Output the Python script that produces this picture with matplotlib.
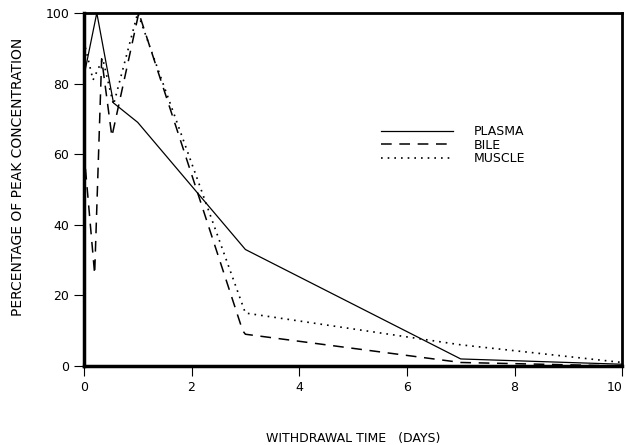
import matplotlib
matplotlib.use("Agg")
import matplotlib.pyplot as plt

# withdrawal time (days) and percentage of peak concentration
plasma_t = [0.0, 0.24, 0.55, 1.0, 3.0, 7.0, 10.0]
plasma_y = [82, 100, 74.5, 69, 33, 2, 0.5]

bile_t = [0.0, 0.2, 0.33, 0.52, 1.02, 2.95, 3.0, 7.0, 10.0]
bile_y = [61, 26, 87, 65, 100, 10, 9, 1, 0]

muscle_t = [0.0, 0.17, 0.35, 0.55, 1.0, 3.0, 7.0, 10.0]
muscle_y = [92, 81, 87, 74, 100, 15, 6, 1]

xticks = [0, 2, 4, 6, 8, 10]
yticks = [0, 20, 40, 60, 80, 100]

fig = plt.figure(figsize=(6.26, 4.45), dpi=100)
ax = fig.add_axes([0.134, 0.1775, 0.860, 0.7935])

ax.plot(plasma_t, plasma_y, color="black", linewidth=0.9, label="PLASMA")
ax.plot(bile_t, bile_y, color="black", linewidth=1.1, linestyle=(0, (7, 5)), label="BILE")
ax.plot(muscle_t, muscle_y, color="black", linewidth=1.2, linestyle=(0, (1, 3)), label="MUSCLE")

ax.set_xlim(0, 10)
ax.set_ylim(0, 100)
ax.set_xticks(xticks)
ax.set_yticks(yticks)
ax.tick_params(direction="out", length=7.5, width=0.8, labelsize=9, pad=3)
# last x label sits at the figure edge, pull it in a little
ax.get_xticklabels()[-1].set_horizontalalignment("right")
ax.get_xticklabels()[-1].set_x(10)

for side in ["left", "bottom"]:
    ax.spines[side].set_linewidth(2.5)
for side in ["top", "right"]:
    ax.spines[side].set_linewidth(2.0)

ax.set_xlabel("WITHDRAWAL TIME   (DAYS)", fontsize=9, labelpad=28)
ax.set_ylabel("PERCENTAGE OF PEAK CONCENTRATION", fontsize=10)
ax.yaxis.set_label_coords(-0.11, 0.535)

ax.legend(loc="upper left", bbox_to_anchor=(0.54, 0.70), frameon=False,
          fontsize=9, handlelength=5.8, handletextpad=1.6, labelspacing=0.05,
          borderpad=0)

fig.savefig("out.png", dpi=100)
